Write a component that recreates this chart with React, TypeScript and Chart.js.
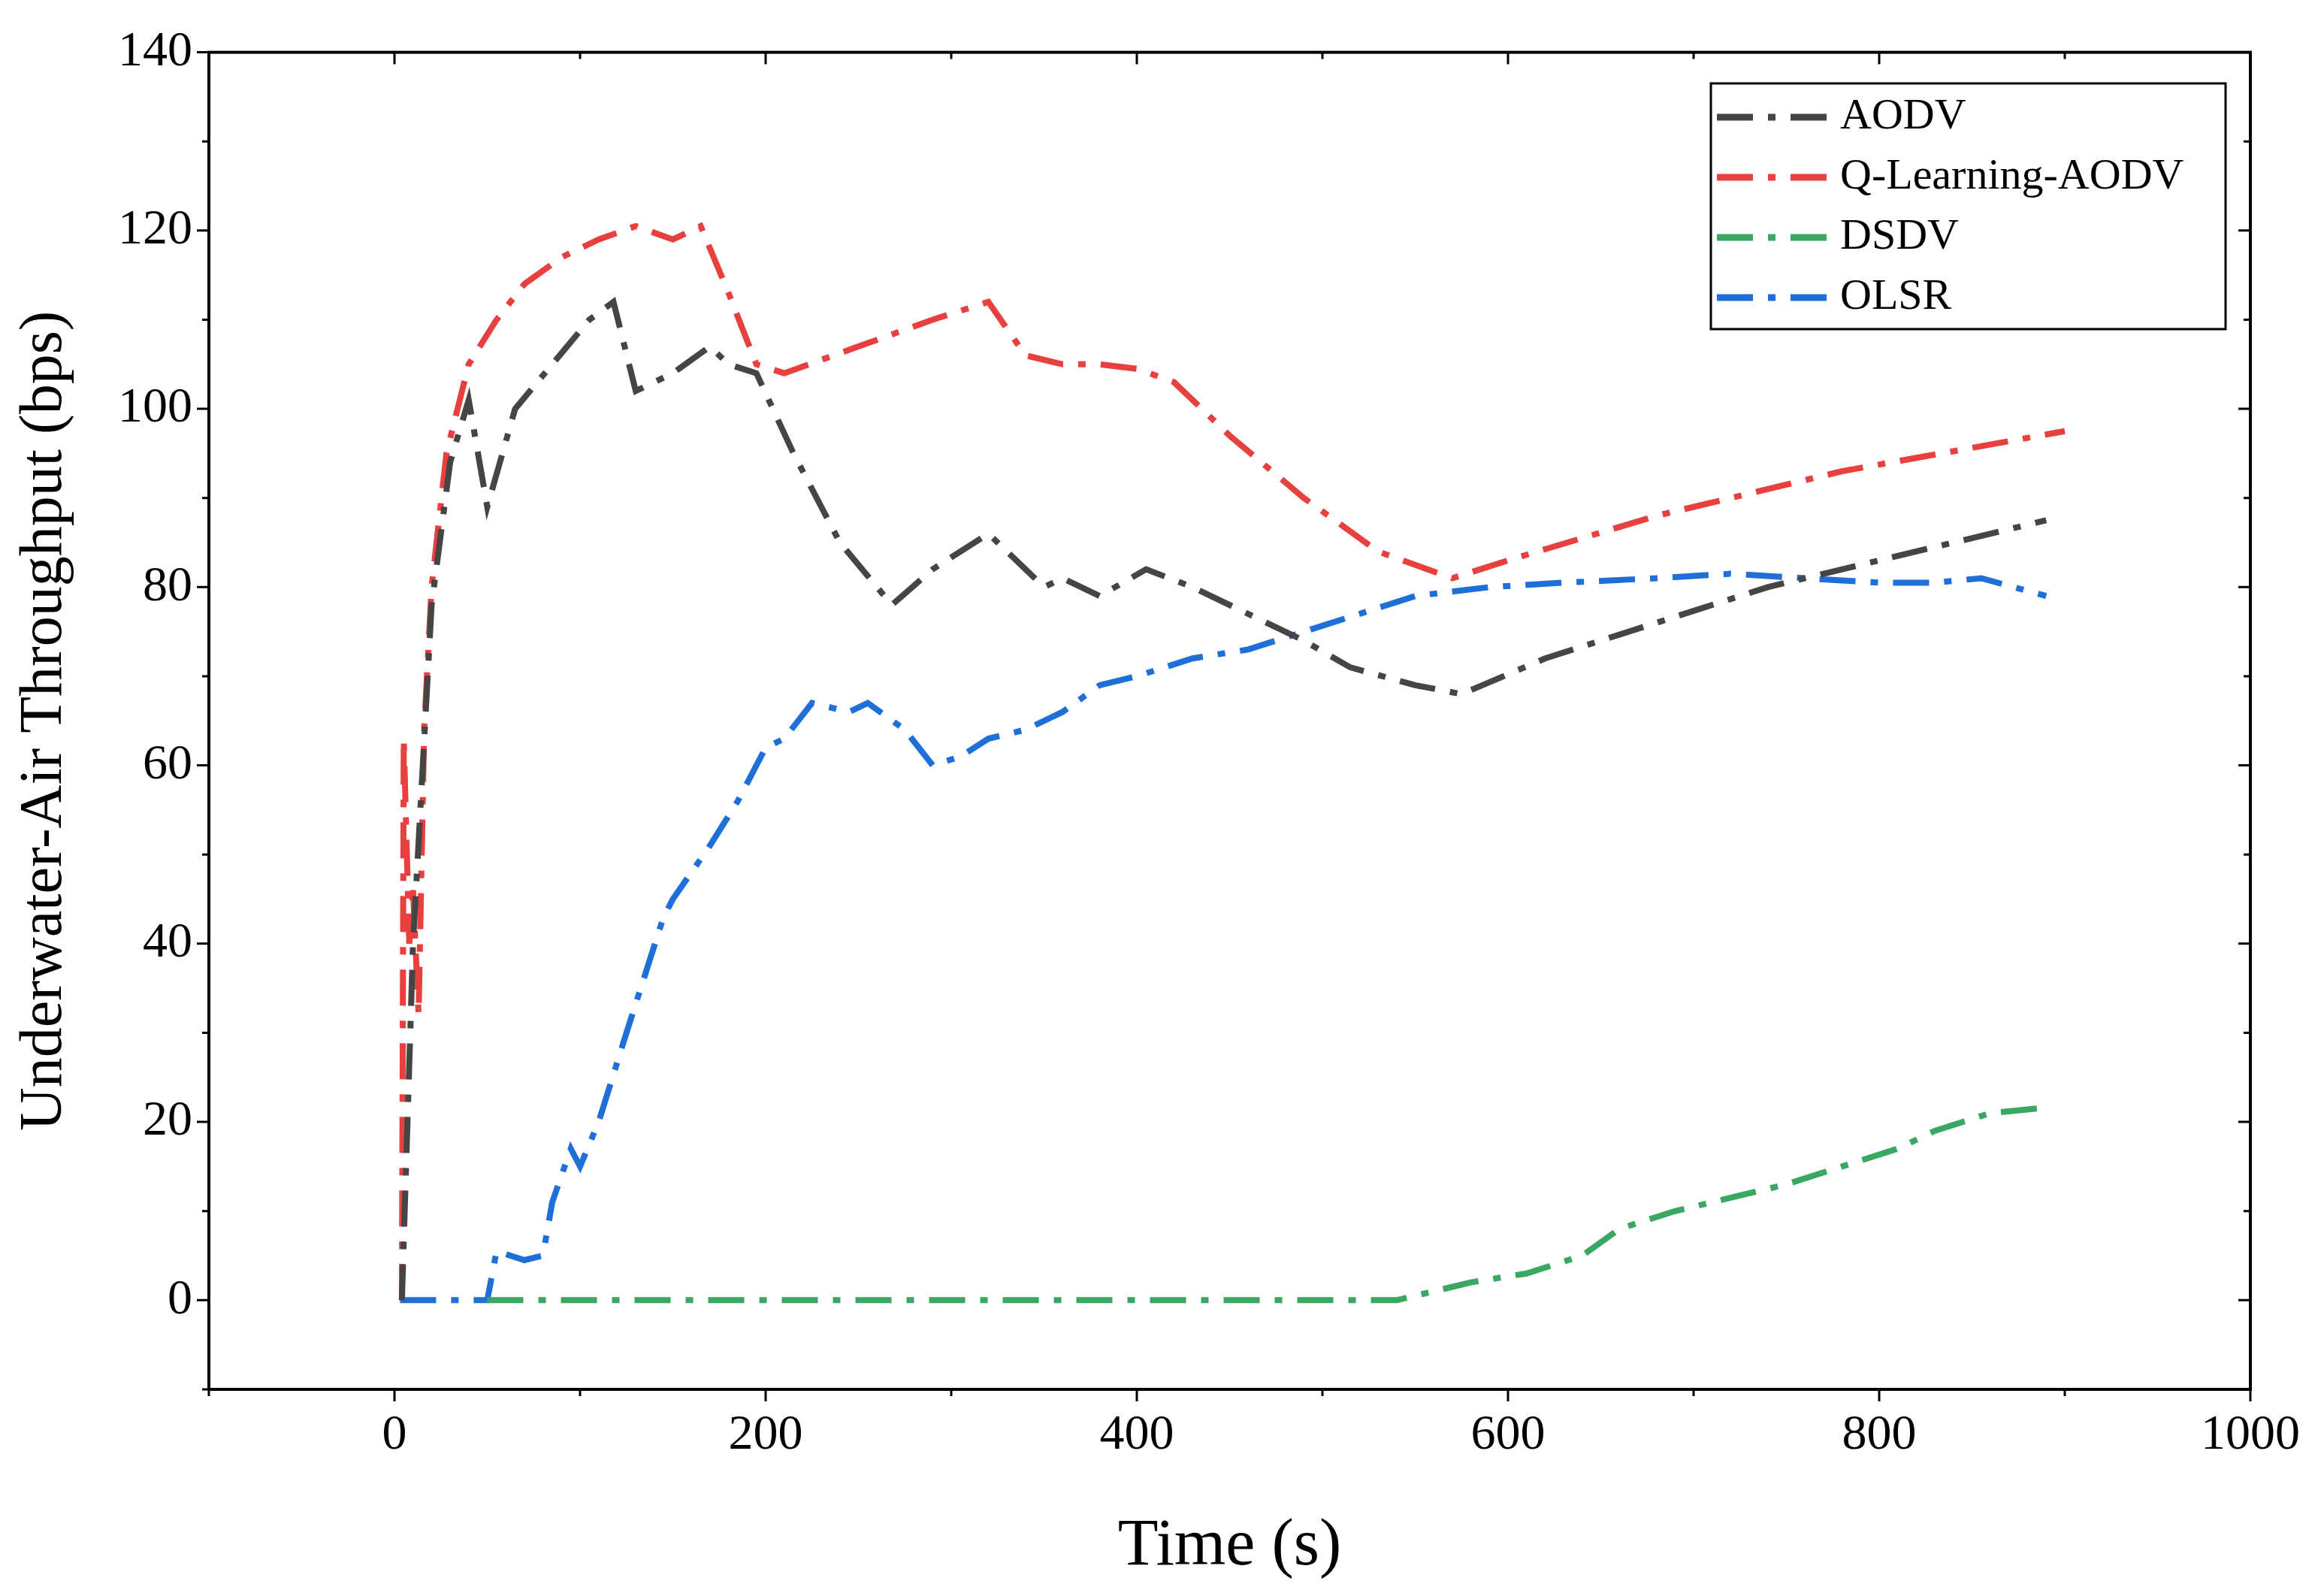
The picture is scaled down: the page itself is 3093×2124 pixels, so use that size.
import React, { useEffect, useRef } from "react";
import { Chart, registerables } from "chart.js";
Chart.register(...registerables);

const aodvX = [4, 10, 20, 30, 40, 45, 50, 65, 85, 105, 118, 130, 150, 170, 180, 195, 215, 240, 268, 290, 320, 350, 360, 380, 405, 430, 450, 470, 490, 515, 550, 575, 620, 680, 740, 800, 890];
const aodvY = [0, 40, 78, 94, 101, 95, 89, 100, 105, 110, 112, 102, 104, 107, 105, 104, 95, 85, 78, 82, 86, 80, 81, 79, 82, 80, 78, 76, 74, 71, 69, 68, 72, 76, 80, 83, 87.5];
const qX = [4, 5, 8, 10, 13, 16, 20, 28, 40, 55, 70, 90, 110, 130, 150, 165, 180, 195, 210, 250, 290, 320, 340, 360, 380, 400, 420, 450, 490, 530, 570, 600, 680, 780, 900];
const qY = [0, 63, 40, 46, 32, 64, 80, 95, 105, 110, 114, 117, 119, 120.5, 119, 120.5, 113, 105, 104, 107, 110, 112, 106, 105, 105, 104.5, 103, 97, 90, 84, 81, 83, 88, 93, 97.5];
const dsdvX = [50, 100, 200, 300, 400, 540, 580, 610, 640, 660, 690, 710, 750, 780, 810, 830, 860, 885];
const dsdvY = [0, 0, 0, 0, 0, 0, 2, 3, 5, 8, 10, 11, 13, 15, 17, 19, 21, 21.5];
const olsrX = [3, 35, 50, 55, 70, 80, 85, 95, 100, 110, 125, 145, 150, 170, 185, 200, 210, 225, 245, 255, 275, 290, 305, 320, 340, 360, 380, 400, 430, 460, 490, 520, 550, 590, 630, 680, 720, 760, 800, 830, 855, 890];
const olsrY = [0, 0, 0, 5.5, 4.5, 5, 11, 17, 15, 20, 30, 43, 45, 51, 56, 62, 63, 67, 66, 67, 64, 60, 61, 63, 64, 66, 69, 70, 72, 73, 75, 77, 79, 80, 80.5, 81, 81.5, 81, 80.5, 80.5, 81, 79];
const xTicks = [0, 200, 400, 600, 800, 1000];
const xMinor = [-100, 100, 300, 500, 700, 900];
const yTicks = [0, 20, 40, 60, 80, 100, 120, 140];
const yMinor = [-10, 10, 30, 50, 70, 90, 110, 130];

const names = ["AODV", "Q-Learning-AODV", "DSDV", "OLSR"];
const colors = ["#454545", "#e8403e", "#3aa862", "#1f6fd8"];
const DASH = [48, 20, 10, 20];
const FONT = "'Liberation Serif', 'Times New Roman', serif";

const mk = (xs: number[], ys: number[]) => xs.map((x, i) => ({ x, y: ys[i] }));

const framePlugin = {
  id: "frame",
  afterDraw(chart: any) {
    const { ctx, chartArea: a, scales } = chart;
    const xs = scales.x, ys = scales.y;
    ctx.save();
    ctx.strokeStyle = "#000";
    ctx.lineWidth = 4;
    ctx.strokeRect(a.left, a.top, a.right - a.left, a.bottom - a.top);
    ctx.lineWidth = 3;
    const L = 16, m = 9;
    ctx.beginPath();
    xTicks.forEach((v) => { const p = xs.getPixelForValue(v); ctx.moveTo(p, a.bottom); ctx.lineTo(p, a.bottom + L); ctx.moveTo(p, a.top); ctx.lineTo(p, a.top + L); });
    xMinor.forEach((v) => { const p = xs.getPixelForValue(v); ctx.moveTo(p, a.bottom); ctx.lineTo(p, a.bottom + m); ctx.moveTo(p, a.top); ctx.lineTo(p, a.top + m); });
    yTicks.forEach((v) => { const p = ys.getPixelForValue(v); ctx.moveTo(a.left, p); ctx.lineTo(a.left - L, p); ctx.moveTo(a.right, p); ctx.lineTo(a.right - L, p); });
    yMinor.forEach((v) => { const p = ys.getPixelForValue(v); ctx.moveTo(a.left, p); ctx.lineTo(a.left - m, p); ctx.moveTo(a.right, p); ctx.lineTo(a.right - m, p); });
    ctx.stroke();
    const bx = 2269, by = 103, bw = 685, bh = 327;
    ctx.lineWidth = 3;
    ctx.strokeRect(bx, by, bw, bh);
    ctx.font = `58px ${FONT}`;
    ctx.textBaseline = "middle";
    names.forEach((n, i) => {
      const y = by + 45 + i * 80;
      ctx.strokeStyle = colors[i];
      ctx.lineWidth = 9;
      ctx.setLineDash(DASH);
      ctx.beginPath(); ctx.moveTo(bx + 8, y); ctx.lineTo(bx + 160, y); ctx.stroke();
      ctx.setLineDash([]);
      ctx.fillStyle = "#000";
      ctx.fillText(n, bx + 172, y);
    });
    ctx.restore();
  },
};

export default function App() {
  const ref = useRef<HTMLCanvasElement>(null);
  useEffect(() => {
    const series = [mk(aodvX, aodvY), mk(qX, qY), mk(dsdvX, dsdvY), mk(olsrX, olsrY)];
    const chart = new Chart(ref.current!, {
      type: "line",
      data: {
        datasets: series.map((d, i) => ({
          label: names[i], data: d, borderColor: colors[i], borderWidth: 8,
          borderDash: DASH, pointRadius: 0, fill: false, tension: 0,
        })),
      },
      options: {
        animation: false, responsive: true, maintainAspectRatio: false,
        layout: { padding: { top: 61, right: 90 } },
        plugins: { legend: { display: false }, tooltip: { enabled: false } },
        scales: {
          x: {
            type: "linear", min: -100, max: 1000,
            afterBuildTicks: (s: any) => { s.ticks = xTicks.map((v) => ({ value: v })); },
            afterFit: (s: any) => { s.height = 267; },
            grid: { display: false, drawTicks: false },
            border: { display: false },
            ticks: { color: "#000", font: { family: FONT, size: 66 }, padding: 22, callback: (v: any) => String(v) },
            title: { display: true, text: "Time (s)", color: "#000", font: { family: FONT, size: 88 }, padding: { top: 14 } },
          },
          y: {
            type: "linear", min: -10, max: 140,
            afterBuildTicks: (s: any) => { s.ticks = yTicks.map((v) => ({ value: v })); },
            afterFit: (s: any) => { s.width = 270; },
            grid: { display: false, drawTicks: false },
            border: { display: false },
            ticks: { color: "#000", font: { family: FONT, size: 66 }, padding: 22, callback: (v: any) => String(v) },
            title: { display: true, text: "Underwater-Air Throughput (bps)", color: "#000", font: { family: FONT, size: 80 }, padding: { bottom: 6 } },
          },
        },
      },
      plugins: [framePlugin],
    } as any);
    return () => chart.destroy();
  }, []);
  return (
    <div style={{ width: 3077, height: 2108, background: "#fff" }}>
      <canvas ref={ref} />
    </div>
  );
}
